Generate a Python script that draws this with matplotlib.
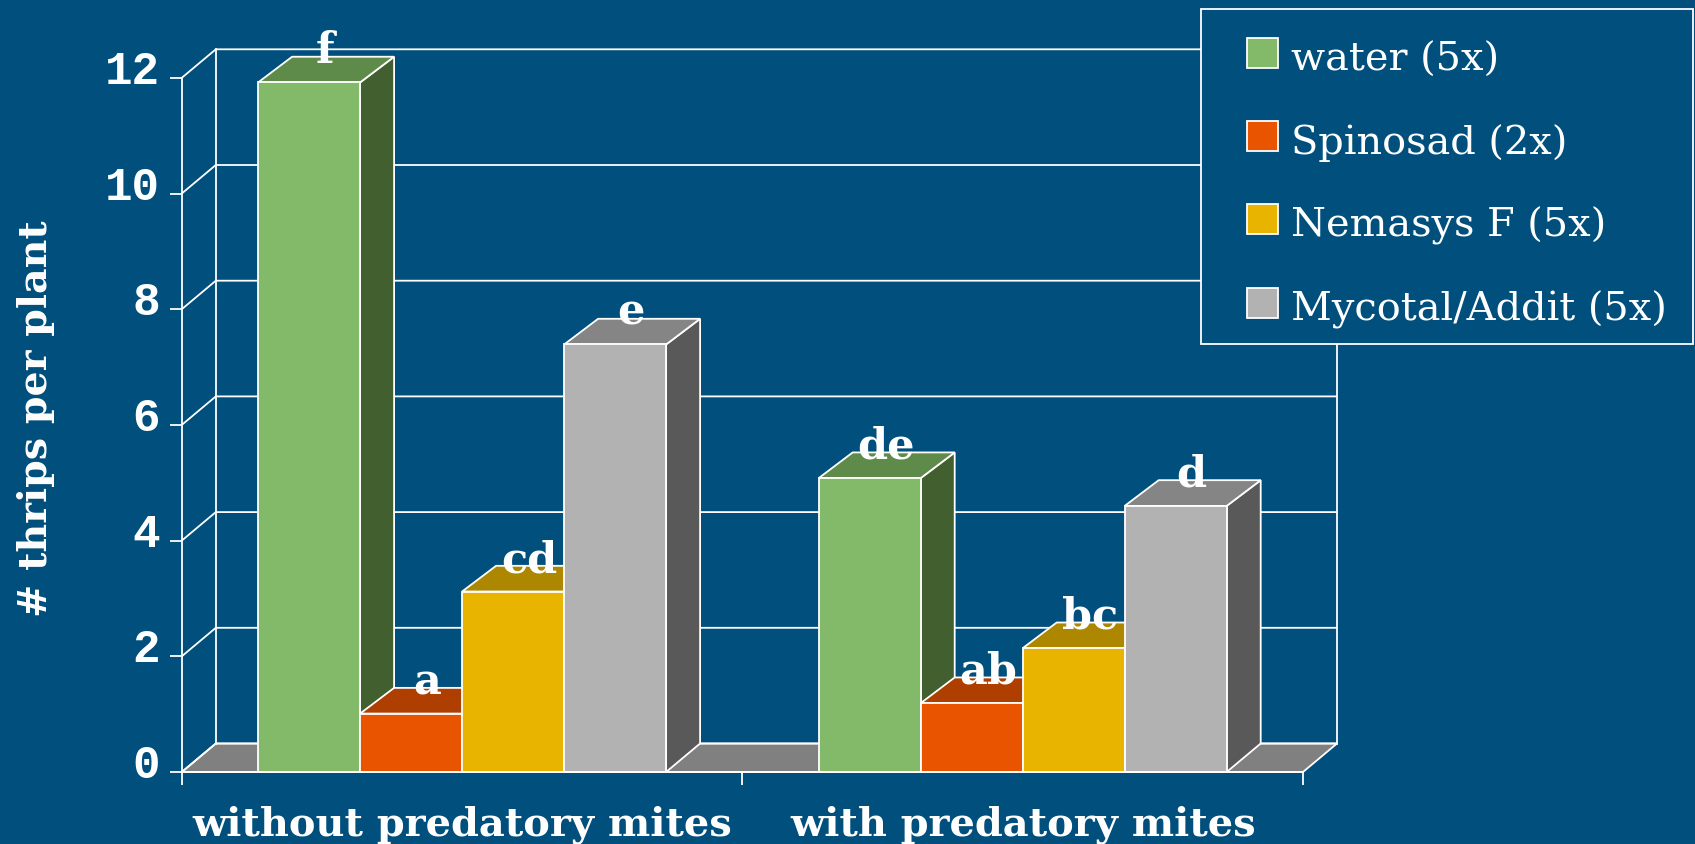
import matplotlib
matplotlib.use("Agg")
import matplotlib.pyplot as plt
from matplotlib.patches import Polygon, Rectangle, Patch
from matplotlib.transforms import ScaledTranslation

# ---- data ----
groups = ["without predatory mites", "with predatory mites"]
treatments = ["water (5x)", "Spinosad (2x)", "Nemasys F (5x)", "Mycotal/Addit (5x)"]
without_mites = [11.92, 1.01, 3.12, 7.39]
with_mites = [5.08, 1.19, 2.14, 4.60]
letters_without = ["f", "a", "cd", "e"]
letters_with = ["de", "ab", "bc", "d"]
y_ticks = [0, 2, 4, 6, 8, 10, 12]

# ---- style ----
BG = "#004F7C"
WHITE = "#FFFFFF"
FRONT = ["#82BA69", "#E85400", "#E8B400", "#B2B2B2"]
TOP = ["#5F8B4A", "#AE3F00", "#AE8700", "#858585"]
SIDE = ["#425F30", "#742A00", "#745A00", "#595959"]
FLOOR = "#808080"
LW = 1.3
W, H = 1695, 844
X0, X1, Y0, Y12 = 181.8, 1303.0, 772.0, 77.8
DEPTH_X, DEPTH_Y, BAR_DEPTH_Y = 34.0, 28.5, 25.7
BAR_W_PX = 102.0
MONO = "Liberation Mono"
SERIF = "DejaVu Serif"

fig = plt.figure(figsize=(W / 100, H / 100), dpi=100, facecolor=BG)
ax = fig.add_axes([X0 / W, (H - Y0) / H, (X1 - X0) / W, (Y0 - Y12) / H], facecolor="none")
ax.set_xlim(0, 2)
ax.set_ylim(0, 12)

ddx = DEPTH_X / ((X1 - X0) / 2)
ddy = DEPTH_Y / ((Y0 - Y12) / 12)
bdy = BAR_DEPTH_Y / ((Y0 - Y12) / 12)
bw = BAR_W_PX / ((X1 - X0) / 2)

# floor
ax.add_patch(Polygon([(0, 0), (ddx, ddy), (2 + ddx, ddy), (2, 0)], closed=True,
                     facecolor=FLOOR, edgecolor=WHITE, lw=LW, clip_on=False, zorder=1))
# back wall and depth lines
for v in y_ticks:
    ax.plot([0, ddx, 2 + ddx], [v, v + ddy, v + ddy], color=WHITE, lw=LW, clip_on=False, zorder=1.5,
            solid_capstyle="butt")
ax.plot([ddx, ddx], [ddy, 12 + ddy], color=WHITE, lw=LW, clip_on=False, zorder=1.5)
ax.plot([2 + ddx, 2 + ddx], [ddy, 12 + ddy], color=WHITE, lw=LW, clip_on=False, zorder=1.5)

# bars
z = 2.0
for g, vals in enumerate([without_mites, with_mites]):
    start = g + 0.5 - 2 * bw
    for j, v in enumerate(vals):
        x = start + j * bw
        ax.add_patch(Polygon([(x + bw, 0), (x + bw + ddx, ddy), (x + bw + ddx, v + bdy), (x + bw, v)],
                             closed=True, facecolor=SIDE[j], edgecolor=WHITE, lw=LW, clip_on=False, zorder=z))
        ax.add_patch(Polygon([(x, v), (x + ddx, v + bdy), (x + bw + ddx, v + bdy), (x + bw, v)],
                             closed=True, facecolor=TOP[j], edgecolor=WHITE, lw=LW, clip_on=False, zorder=z))
        ax.bar(x + bw / 2, v, width=bw, color=FRONT[j], edgecolor=WHITE, lw=LW, zorder=z + 0.1, clip_on=False)
        z += 0.2
for g, (vals, letters) in enumerate(zip([without_mites, with_mites], [letters_without, letters_with])):
    start = g + 0.5 - 2 * bw
    for j, (v, lab) in enumerate(zip(vals, letters)):
        x = start + j * bw
        ax.annotate(lab, xy=(x + bw / 2, v), xytext=(16, 19.5), textcoords="offset pixels",
                    ha="center", va="baseline", color=WHITE, fontsize=31, fontweight="bold",
                    family=SERIF, zorder=10, annotation_clip=False)

# axes
for s in ("top", "right"):
    ax.spines[s].set_visible(False)
for s in ("left", "bottom"):
    ax.spines[s].set_color(WHITE)
    ax.spines[s].set_linewidth(LW)
    ax.spines[s].set_zorder(5)
ax.set_yticks(y_ticks)
ax.set_yticklabels([str(v) for v in y_ticks], family=MONO, fontweight="bold", fontsize=33, color=WHITE)
ax.tick_params(axis="y", colors=WHITE, length=9, width=LW, pad=7)
up = ScaledTranslation(0, 11 / 100, fig.dpi_scale_trans)
for lab in ax.get_yticklabels():
    lab.set_transform(lab.get_transform() + up)
ax.set_xticks([0, 1, 2])
ax.set_xticklabels([])
ax.set_xticks([0.5, 1.5], minor=True)
ax.set_xticklabels(groups, minor=True, family=SERIF, fontweight="bold", fontsize=28.7, color=WHITE)
ax.tick_params(axis="x", which="major", colors=WHITE, length=9, width=LW)
ax.tick_params(axis="x", which="minor", length=0, pad=24, colors=WHITE)
ax.set_ylabel("# thrips per plant", family=SERIF, fontweight="bold", fontsize=28.5, color=WHITE)
ax.yaxis.set_label_coords(55 / W, 1 - 419 / H, transform=fig.transFigure)

# legend
fig.add_artist(Rectangle((1201 / W, 1 - 344 / H), 492 / W, 335 / H, transform=fig.transFigure,
                         facecolor=BG, edgecolor=WHITE, lw=LW, zorder=20))
handles = [Patch(facecolor=c, edgecolor=WHITE, lw=LW) for c in FRONT]
leg = fig.legend(handles, treatments, loc="upper left", bbox_to_anchor=(1246.5 / W, 1 - 38 / H),
                 frameon=False, borderpad=0, borderaxespad=0,
                 handlelength=0.78, handleheight=0.78, handletextpad=0.34, labelspacing=1.13,
                 prop={"family": SERIF, "size": 28.7})
leg.set_zorder(21)
for t in leg.get_texts():
    t.set_color(WHITE)
    t.set_position((0, -4))

fig.savefig("out.png", dpi=100, facecolor=BG)
